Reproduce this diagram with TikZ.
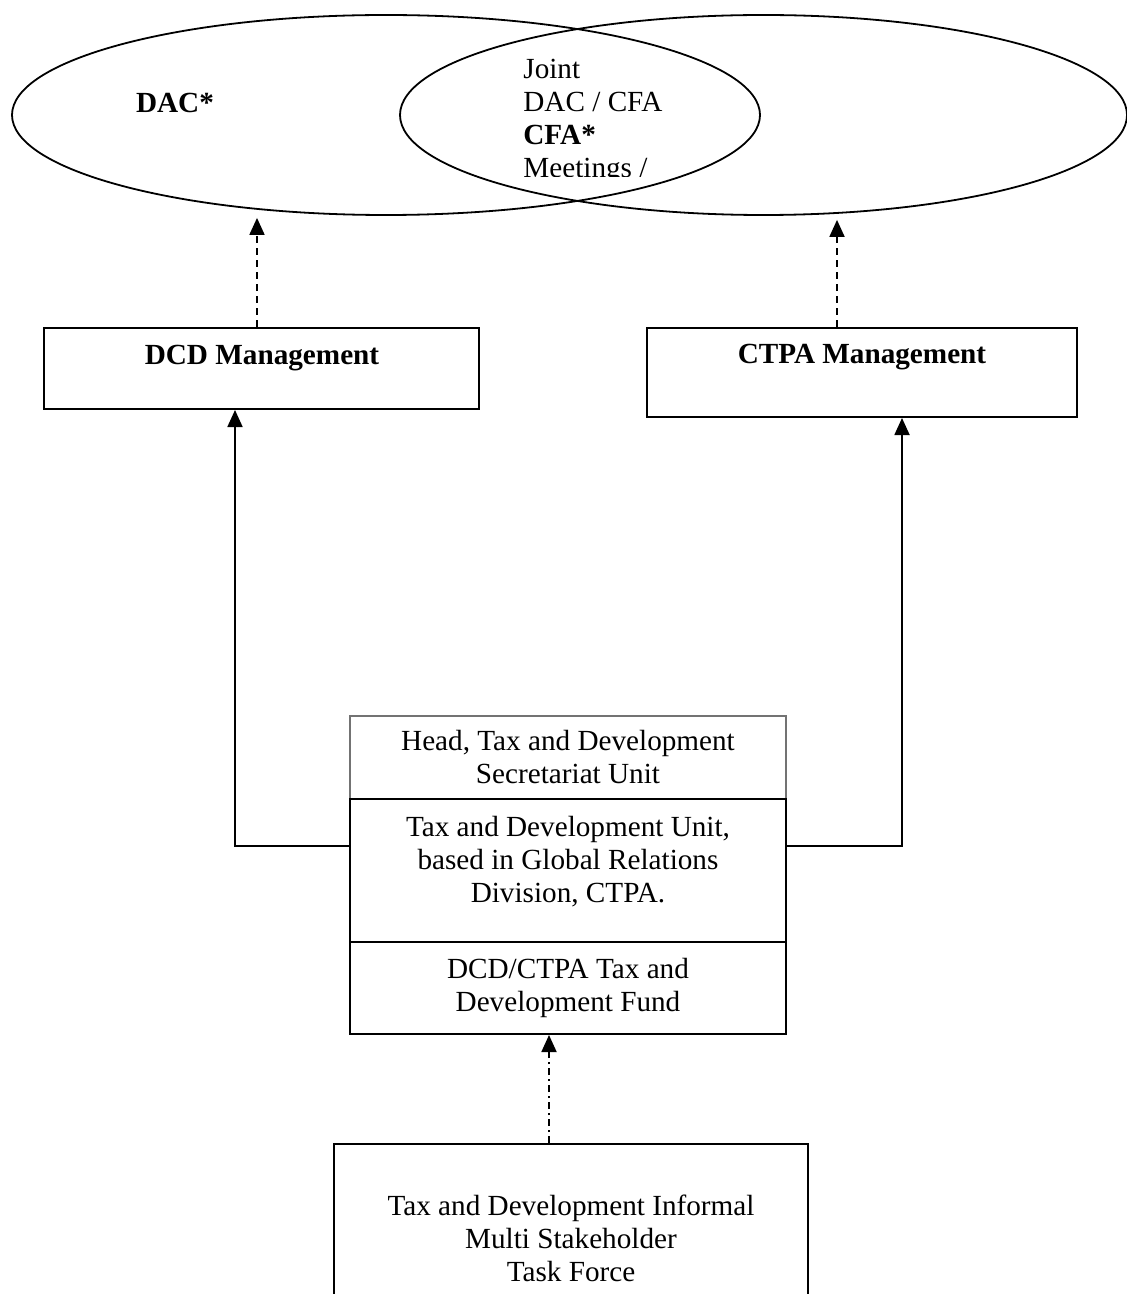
\documentclass[tikz,border=0pt]{standalone}
\usepackage{fontspec}
\setmainfont{Liberation Serif}
\usetikzlibrary{shapes.geometric,arrows.meta}

\begin{document}
\begin{tikzpicture}[x=0.5pt,y=-0.5pt]
\tikzstyle{txt} = [font=\fontsize{14.6}{16.5}\selectfont,align=center,inner sep=0pt];
\tikzstyle{bold} = [txt,font=\fontsize{14.6}{16.5}\selectfont\bfseries];
\tikzstyle{body}=[ellipse,draw,line width=0.9pt,inner sep=0pt,minimum height=100pt];
\tikzstyle{mgmt}=[rectangle,draw,line width=1pt,inner sep=0pt];
\tikzstyle{unitbox}=[txt,rectangle,draw,line width=1pt,minimum width=218pt];
\tikzstyle{feed}=[-{Triangle[width=7.5pt,length=8.5pt]},line width=0.9pt];
\tikzstyle{report}=[feed,dash pattern=on 3.5pt off 2.5pt];
\tikzstyle{support}=[feed,dash pattern=on 3.5pt off 2pt on 1pt off 2pt];
\useasboundingbox (0,0) rectangle (1127,1294);
\node [body,minimum width=374pt] (v1) at (386,115) {};
\node [body,minimum width=363.5pt] (v2) at (763.5,115) {};
\node [bold] (v1t) at (175,103) {DAC*};
\begin{scope}
\clip (400,40) rectangle (760,177);
\node [txt,align=left,anchor=west] (v2t) at (523,121) {Joint\\DAC / CFA\\\textbf{CFA*}\\Meetings /};
\end{scope}

\node [mgmt,minimum width=217.5pt,minimum height=40.5pt] (v3) at (261.5,368.5) {};
\node [bold] (v3t) at (262,358) {DCD Management};
\node [mgmt,minimum width=215pt,minimum height=44.5pt] (v4) at (862,372.5) {};
\node [bold] (v4t) at (862,357) {CTPA Management};

\node [unitbox,draw=black!55,line width=0.6pt,minimum height=41.5pt] (v5) at (568,757.5) {Head, Tax and Development\\Secretariat Unit};
\node [unitbox,minimum height=71.5pt] (v6) at (568,870.5) {};
\node [txt] (v6t) at (568,861.5) {Tax and Development Unit,\\based in Global Relations\\Division, CTPA.};
\node [unitbox,minimum height=46pt] (v7) at (568,988) {DCD/CTPA Tax and\\Development Fund};
\node [unitbox,minimum width=237pt,minimum height=94.5pt] (v8) at (571,1238.5) {Tax and Development Informal\\Multi Stakeholder\\Task Force};

\draw [report,shorten >=1pt] ([xshift=-2.25pt]v3.north) -- ([xshift=-2.25pt]v3.north |- v1.south);
\draw [report,shorten >=2pt] ([xshift=-12.5pt]v4.north) -- ([xshift=-12.5pt]v4.north |- v2.south);
\draw [feed] ([yshift=12.25pt]v6.west) -| ([xshift=-13.25pt]v3.south);
\draw [feed] ([yshift=12.25pt]v6.east) -| ([xshift=20pt]v4.south);
\draw [support] ([xshift=-11pt]v8.north) -- ([xshift=-9.5pt]v7.south);
\end{tikzpicture}
\end{document}
